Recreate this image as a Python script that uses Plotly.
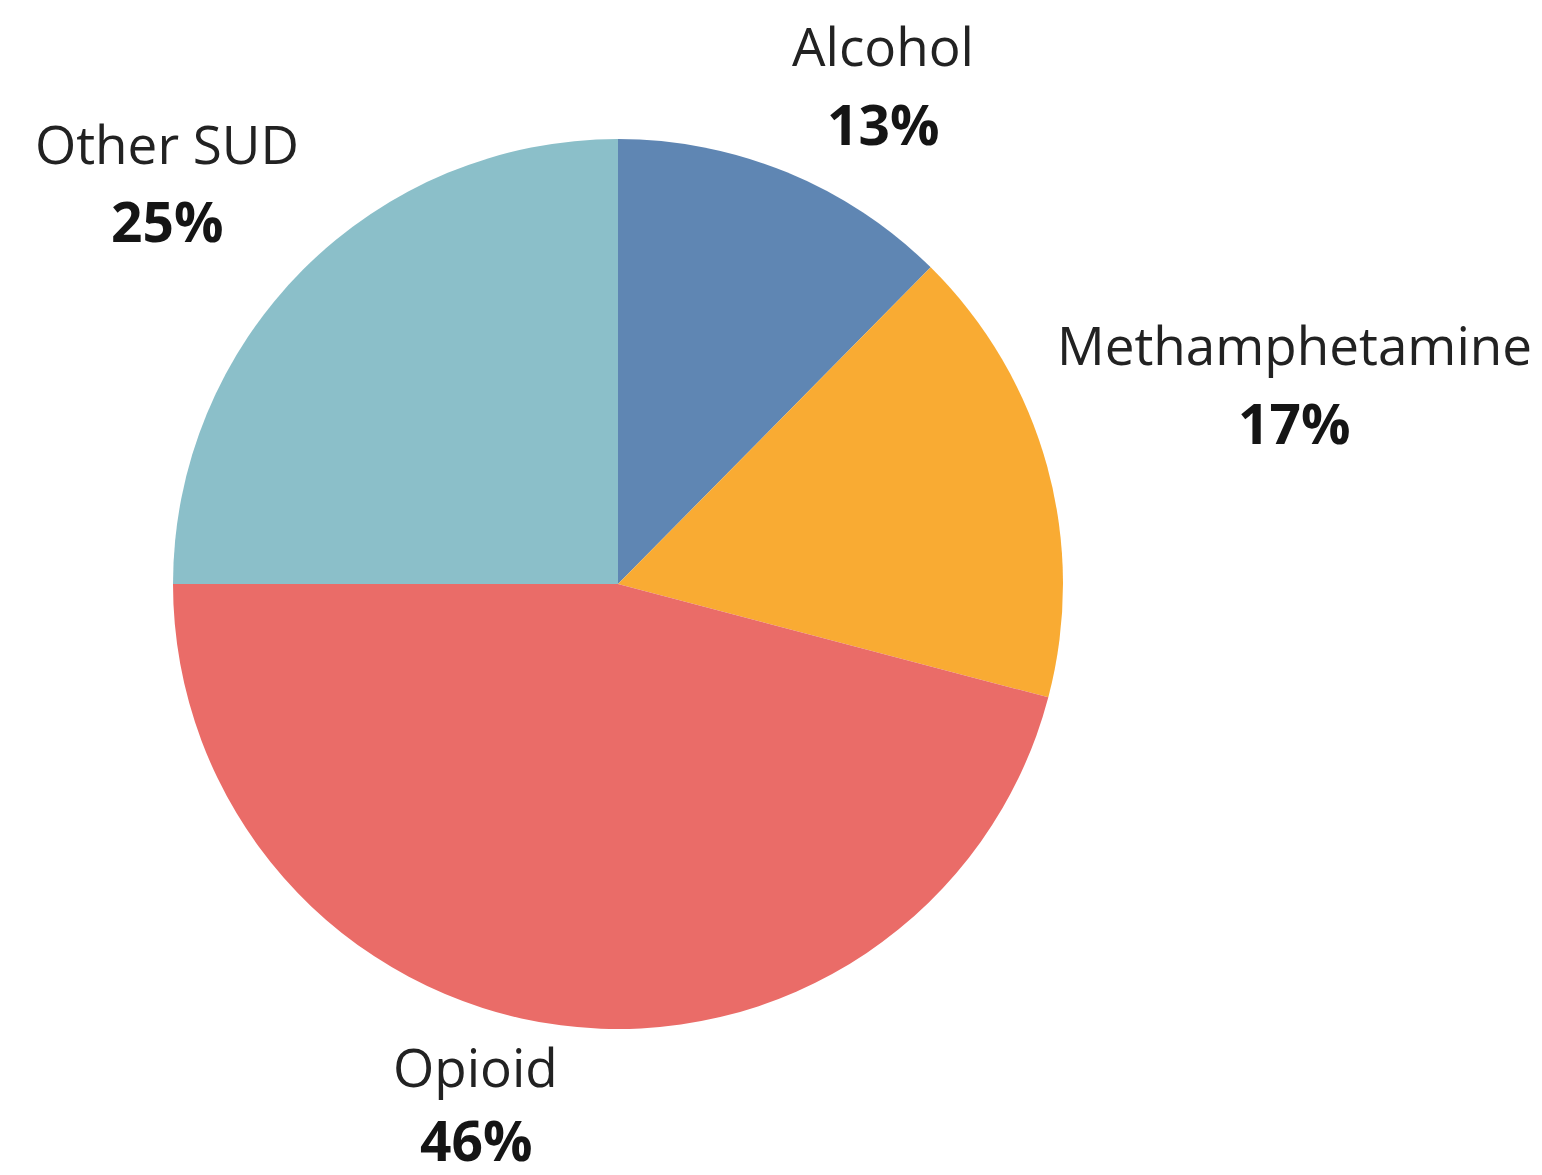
import plotly.graph_objects as go

# ---------------------------------------------------------------------
# Data
# ---------------------------------------------------------------------
labels = ["Alcohol", "Methamphetamine", "Opioid", "Other SUD"]
values = [12.4, 16.7, 45.9, 25.0]
pct_text = ["13%", "17%", "46%", "25%"]
colors = ["#5F86B3", "#F9AB33", "#EA6C68", "#8BBFC9"]

# label block positions in page pixels, name line / percent line
label_x = [883, 1294, 476, 167]
name_y = [45, 345, 1066, 143]
pct_y = [123, 423, 1139, 220]

W, H = 1542, 1175
OFF = 8  # page body margin
cx, cy, r = 618 - OFF, 584 - OFF, 445


def px(x):
    return (x - OFF) / W


def py(y):
    return 1 - (y - OFF) / H


fig = go.Figure(go.Pie(
    labels=labels,
    values=values,
    sort=False,
    direction="clockwise",
    rotation=0,
    marker=dict(colors=colors, line=dict(width=0)),
    textinfo="none",
    hoverinfo="label+percent",
    domain=dict(x=[(cx - r) / W, (cx + r) / W], y=[1 - (cy + r) / H, 1 - (cy - r) / H]),
    showlegend=False,
))

font_family = "Open Sans"
for i, name in enumerate(labels):
    fig.add_annotation(x=px(label_x[i]), y=py(name_y[i]), xref="paper", yref="paper",
                       text=name, showarrow=False, xanchor="center", yanchor="middle",
                       borderpad=0,
                       font=dict(family=font_family, size=53, color="#222222"))
    fig.add_annotation(x=px(label_x[i]), y=py(pct_y[i]), xref="paper", yref="paper",
                       text="<b>" + pct_text[i] + "</b>", showarrow=False,
                       xanchor="center", yanchor="middle", borderpad=0,
                       font=dict(family=font_family, size=55, color="#151515"))

fig.update_layout(
    width=W, height=H,
    margin=dict(l=0, r=0, t=0, b=0),
    paper_bgcolor="white",
    plot_bgcolor="white",
)

fig.write_html("out.html")
